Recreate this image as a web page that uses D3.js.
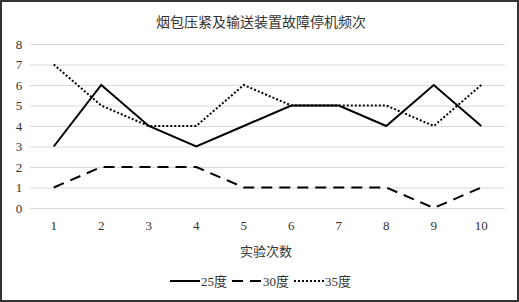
<!DOCTYPE html>
<html lang="zh">
<head>
<meta charset="UTF-8">
<title>烟包压紧及输送装置故障停机频次</title>
<script src="https://cdn.jsdelivr.net/npm/d3@7/dist/d3.min.js"></script>
<style>
    body{ margin:0; background:#fff; }
    .num{ font-family:'Liberation Serif', serif; font-size:13px; fill:#333; }
    .cjk{ font-family:'Liberation Serif', 'Noto Sans CJK SC', sans-serif; fill:#333; }
</style>
</head>
<body>
<div id="grafico"></div>
<script>
var w = 519, h = 302;

// datos
var categorias = ["1","2","3","4","5","6","7","8","9","10"];
var serie25 = [3,6,4,3,4,5,5,4,6,4];
var serie30 = [1,2,2,2,1,1,1,1,0,1];
var serie35 = [7,5,4,4,6,5,5,5,4,6];
var nombres = ["25度","30度","35度"];
var yTicks = [0,1,2,3,4,5,6,7,8];

var series = [
    {nombre: nombres[0], valores: serie25, dash: null},
    {nombre: nombres[1], valores: serie30, dash: "11,7"},
    {nombre: nombres[2], valores: serie35, dash: "2,2"}
];

var svg = d3.select("#grafico").append("svg")
    .attr("width", w).attr("height", h);

// marco
svg.append("rect")
    .attr("x", 1).attr("y", 1).attr("width", w - 2).attr("height", h - 2)
    .attr("fill", "#fff").attr("stroke", "#333").attr("stroke-width", 2);

var xScale = d3.scalePoint().domain(categorias).range([30, 505]).padding(0.5);
var yScale = d3.scaleLinear().domain([0, 8]).range([208, 44]);

// rejilla
svg.selectAll("line.grid").data(yTicks).enter().append("line")
    .attr("class", "grid")
    .attr("x1", 30).attr("x2", 505)
    .attr("y1", function(d){ return yScale(d) + 0.5; })
    .attr("y2", function(d){ return yScale(d) + 0.5; })
    .attr("stroke", "#d9d9d9").attr("stroke-width", 1);

// textos eje y
svg.selectAll("text.ytick").data(yTicks).enter().append("text")
    .attr("class", "num")
    .attr("x", 19).attr("y", function(d){ return yScale(d); })
    .attr("text-anchor", "middle").attr("dy", "0.35em")
    .text(function(d){ return d; });

// textos eje x
svg.selectAll("text.xtick").data(categorias).enter().append("text")
    .attr("class", "num")
    .attr("x", function(d){ return xScale(d); }).attr("y", 230)
    .attr("text-anchor", "middle")
    .text(function(d){ return d; });

// titulo
svg.append("text").attr("class", "cjk")
    .attr("x", 261).attr("y", 27).attr("text-anchor", "middle")
    .style("font-size", "14px")
    .text("烟包压紧及输送装置故障停机频次");

svg.append("text").attr("class", "cjk")
    .attr("x", 266).attr("y", 256).attr("text-anchor", "middle")
    .style("font-size", "13px")
    .text("实验次数");

// lineas
var linea = d3.line()
    .x(function(d, i){ return xScale(categorias[i]); })
    .y(function(d){ return yScale(d); });

svg.selectAll("path.serie").data(series).enter().append("path")
    .attr("class", "serie")
    .attr("d", function(d){ return linea(d.valores); })
    .attr("fill", "none").attr("stroke", "#000").attr("stroke-width", 2)
    .attr("stroke-dasharray", function(d){ return d.dash; });

// leyenda
var leyX = [170, 232, 294];
var leyenda = svg.selectAll("g.ley").data(series).enter().append("g")
    .attr("class", "ley")
    .attr("transform", function(d, i){ return "translate(" + leyX[i] + ",281)"; });
leyenda.append("line")
    .attr("x1", 0).attr("x2", 30).attr("y1", 0).attr("y2", 0)
    .attr("stroke", "#000").attr("stroke-width", 2)
    .attr("stroke-dasharray", function(d){ return d.dash; });
leyenda.append("text").attr("class", "cjk")
    .attr("x", 31).attr("y", 0).attr("dy", "0.35em")
    .style("font-size", "13px")
    .text(function(d){ return d.nombre; });
</script>
</body>
</html>
